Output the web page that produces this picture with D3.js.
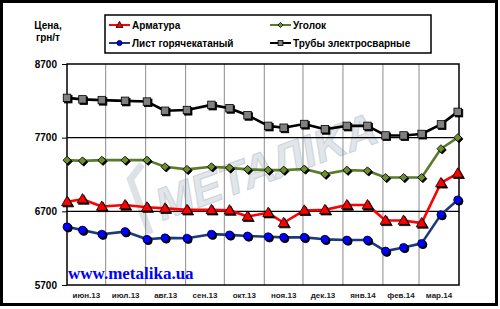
<!doctype html>
<html lang="ru">
  <head>
    <meta charset="UTF-8" />
    <title>Цены на металлопрокат</title>
    <script src="https://d3js.org/d3.v7.min.js"></script>
    <style>
      body {
        margin: 0;
        background: #fff;
      }
      svg {
        display: block;
        font-family: "Liberation Sans", Arial, sans-serif;
      }
    </style>
  </head>
  <body>
    <svg width="500" height="309"></svg>

    <script>
      // dates of price reports
      const dates = [
        "2013-06-01", "2013-06-13", "2013-06-28", "2013-07-16", "2013-08-02",
        "2013-08-16", "2013-09-02", "2013-09-21", "2013-10-05", "2013-10-19",
        "2013-11-04", "2013-11-16", "2013-12-02", "2013-12-18", "2014-01-04",
        "2014-01-20", "2014-02-03", "2014-02-17", "2014-03-03", "2014-03-18",
        "2014-03-31",
      ];
      const armatura = [6830, 6865, 6765, 6785, 6755, 6740, 6720, 6720, 6715, 6630, 6680, 6545, 6712, 6720, 6785, 6785, 6575, 6575, 6540, 7085, 7215];
      const list = [6490, 6445, 6390, 6425, 6320, 6340, 6335, 6390, 6380, 6365, 6355, 6347, 6347, 6320, 6310, 6310, 6160, 6210, 6265, 6655, 6855];
      const ugolok = [7395, 7385, 7395, 7395, 7395, 7305, 7270, 7305, 7290, 7270, 7260, 7260, 7275, 7205, 7260, 7250, 7160, 7160, 7160, 7550, 7700];
      const truby = [8240, 8220, 8210, 8200, 8190, 8065, 8075, 8145, 8100, 8005, 7860, 7835, 7885, 7815, 7860, 7860, 7730, 7730, 7750, 7880, 8050];

      const yTicks = [5700, 6700, 7700, 8700];
      const monthLabels = ["июн.13", "июл.13", "авг.13", "сен.13", "окт.13", "ноя.13", "дек.13", "янв.14", "фев.14", "мар.14"];

      const series = [
        { name: "Арматура", values: armatura, line: "#ff0000", fill: "#ff0000", marker: "triangle" },
        { name: "Уголок", values: ugolok, line: "#5b7a2b", fill: "#6b8e2f", marker: "diamond" },
        { name: "Лист горячекатаный", values: list, line: "#1a3a7c", fill: "#0000ff", marker: "circle" },
        { name: "Трубы электросварные", values: truby, line: "#000000", fill: "#808080", marker: "square" },
      ];

      const svg = d3.select("svg");
      const plot = { left: 67, top: 64, right: 459, bottom: 285 };
      const parse = d3.timeParse("%Y-%m-%d");

      const x = d3
        .scaleTime()
        .domain([new Date(2013, 5, 1), new Date(2014, 3, 1)])
        .range([plot.left, plot.right]);
      const y = d3.scaleLinear().domain([5700, 8700]).range([plot.bottom, plot.top]);

      // outer frame
      svg.append("rect").attr("x", 0).attr("y", 0).attr("width", 500).attr("height", 309).attr("fill", "#fff");
      svg
        .append("rect")
        .attr("x", 1.5)
        .attr("y", 1.5)
        .attr("width", 495)
        .attr("height", 303)
        .attr("fill", "none")
        .attr("stroke", "#000")
        .attr("stroke-width", 3);

      // watermark
      const wm = svg.append("g").attr("transform", "translate(266,166) rotate(-20)");
      wm.append("path")
        .attr("d", "M-132,24 L-132,-34 L-116,-44")
        .attr("fill", "none")
        .attr("stroke", "#dde2e7")
        .attr("stroke-width", 7);
      wm.append("text")
        .attr("text-anchor", "middle")
        .attr("y", 16)
        .attr("font-size", 45)
        .attr("font-weight", "bold")
        .attr("font-style", "italic")
        .attr("fill", "#e2e6ea")
        .attr("stroke", "#ccd3d9")
        .attr("stroke-width", 1)
        .text("METAЛIKA");

      // vertical month grid
      const monthStarts = d3.timeMonth.range(new Date(2013, 5, 1), new Date(2014, 4, 1));
      svg
        .append("g")
        .selectAll("line")
        .data(monthStarts.slice(1, -1))
        .join("line")
        .attr("x1", (d) => x(d))
        .attr("x2", (d) => x(d))
        .attr("y1", plot.top)
        .attr("y2", plot.bottom)
        .attr("stroke", "#8c8c8c")
        .attr("stroke-width", 1);

      // horizontal grid
      svg
        .append("g")
        .selectAll("line")
        .data(yTicks.slice(1, -1))
        .join("line")
        .attr("x1", plot.left)
        .attr("x2", plot.right)
        .attr("y1", (d) => y(d))
        .attr("y2", (d) => y(d))
        .attr("stroke", "#000")
        .attr("stroke-width", 1.2);

      // plot border
      svg
        .append("rect")
        .attr("x", plot.left)
        .attr("y", plot.top)
        .attr("width", plot.right - plot.left)
        .attr("height", plot.bottom - plot.top)
        .attr("fill", "none")
        .attr("stroke", "#000")
        .attr("stroke-width", 1.5);

      // y axis
      const yAxis = svg
        .append("g")
        .attr("transform", `translate(${plot.left},0)`)
        .call(d3.axisLeft(y).tickValues(yTicks).tickSize(5).tickPadding(5).tickFormat(d3.format("d")));
      yAxis.select(".domain").remove();
      yAxis.selectAll("line").attr("stroke", "#000");
      yAxis
        .selectAll("text")
        .attr("font-size", 10)
        .attr("font-weight", "bold")
        .attr("font-family", "'Liberation Sans', Arial, sans-serif")
        .attr("fill", "#000");

      // month labels centred between gridlines
      svg
        .append("g")
        .selectAll("text")
        .data(monthLabels)
        .join("text")
        .attr("x", (d, i) => (x(monthStarts[i]) + x(monthStarts[i + 1])) / 2)
        .attr("y", 298)
        .attr("text-anchor", "middle")
        .attr("font-size", 8)
        .attr("font-weight", "bold")
        .attr("fill", "#222")
        .text((d) => d);

      // axis title
      const yTitle = svg
        .append("text")
        .attr("text-anchor", "middle")
        .attr("font-size", 10)
        .attr("font-weight", "bold");
      yTitle.append("tspan").attr("x", 48).attr("y", 29).text("Цена,");
      yTitle.append("tspan").attr("x", 48).attr("y", 41).text("грн/т");

      // site label
      svg
        .append("text")
        .attr("x", 68)
        .attr("y", 279)
        .attr("font-family", "'Liberation Serif', 'Times New Roman', serif")
        .attr("font-size", 17)
        .attr("font-weight", "bold")
        .attr("fill", "#0000ff")
        .text("www.metalika.ua");

      function drawMarker(g, type, cx, cy, s, fill) {
        let m;
        if (type === "triangle") {
          m = g.append("path").attr("d", `M${cx},${cy - s * 0.62}L${cx + s * 0.6},${cy + s * 0.42}L${cx - s * 0.6},${cy + s * 0.42}Z`);
        } else if (type === "diamond") {
          m = g.append("path").attr("d", `M${cx},${cy - s / 2}L${cx + s / 2},${cy}L${cx},${cy + s / 2}L${cx - s / 2},${cy}Z`);
        } else if (type === "circle") {
          m = g.append("circle").attr("cx", cx).attr("cy", cy).attr("r", s / 2);
        } else {
          m = g.append("rect").attr("x", cx - s / 2).attr("y", cy - s / 2).attr("width", s).attr("height", s);
        }
        return m.attr("fill", fill).attr("stroke", "#000").attr("stroke-width", 0.8);
      }

      const line = d3
        .line()
        .x((d, i) => x(parse(dates[i])))
        .y((d) => y(d));

      const sizes = { triangle: 9, diamond: 8, circle: 8, square: 7.5 };

      // draw back to front: pipes, angle, sheet, rebar
      [series[3], series[1], series[2], series[0]].forEach((s) => {
        const g = svg.append("g");
        g.append("path")
          .attr("d", line(s.values))
          .attr("fill", "none")
          .attr("stroke", s.line)
          .attr("stroke-width", 2.6)
          .attr("stroke-linejoin", "round");
        s.values.forEach((v, i) => {
          const cx = x(parse(dates[i])), cy = y(v);
          drawMarker(g, s.marker, cx + 1.3, cy + 1.3, sizes[s.marker], "#000");
          drawMarker(g, s.marker, cx, cy, sizes[s.marker], s.fill);
        });
      });

      // legend
      const legend = svg.append("g");
      legend
        .append("rect")
        .attr("x", 105)
        .attr("y", 15)
        .attr("width", 326)
        .attr("height", 38)
        .attr("fill", "#fff")
        .attr("stroke", "#000")
        .attr("stroke-width", 1.5);
      const legendPos = [
        [109, 25],
        [270, 25],
        [109, 43],
        [270, 43],
      ];
      series.forEach((s, i) => {
        const [lx, ly] = legendPos[i];
        legend
          .append("line")
          .attr("x1", lx)
          .attr("x2", lx + 21)
          .attr("y1", ly)
          .attr("y2", ly)
          .attr("stroke", s.line)
          .attr("stroke-width", 2);
        drawMarker(legend, s.marker, lx + 10.5, ly, sizes[s.marker] * 0.65, s.fill);
        legend
          .append("text")
          .attr("x", lx + 23)
          .attr("y", ly + 3.6)
          .attr("font-size", 10)
          .attr("font-weight", "bold")
          .text(s.name);
      });
    </script>
  </body>
</html>
